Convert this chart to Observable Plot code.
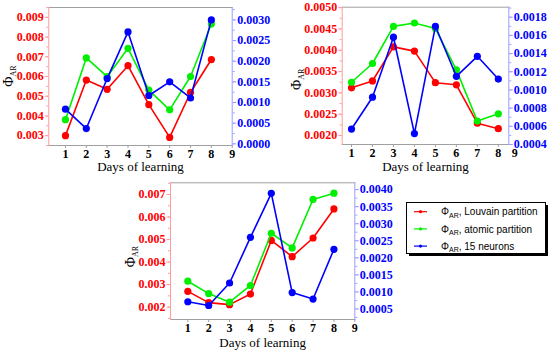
<!DOCTYPE html>
<html><head><meta charset="utf-8">
<script src="https://cdn.jsdelivr.net/npm/d3@7"></script>
<script src="https://cdn.jsdelivr.net/npm/@observablehq/plot@0.6"></script>
<style>
body{margin:0;background:#fff;}
#chart{position:relative;width:550px;height:351px;overflow:hidden;background:#fff;}
.layer{position:absolute;}
.layer svg{position:absolute;left:0;top:0;overflow:visible;}
</style></head><body><div id="chart"></div>
<script>
// ---------- data ----------
const days = [1, 2, 3, 4, 5, 6, 7, 8];
const xTickLabels = [1, 2, 3, 4, 5, 6, 7, 8, 9];
const seriesNames = ["Louvain partition", "atomic partition", "15 neurons"];
const seriesColors = ["#ff0000", "#00f000", "#0000ff"];

// Panel A (top left)
const louvainA = [0.00300, 0.00582, 0.00535, 0.00655, 0.00457, 0.00291, 0.00519, 0.00686];
const atomicA  = [0.00381, 0.00694, 0.00599, 0.00743, 0.00531, 0.00431, 0.00600, 0.00866];
const neuronsA = [0.00084, 0.00037, 0.00158, 0.00271, 0.00117, 0.00150, 0.00111, 0.00300];
const leftTicksA  = [0.003, 0.004, 0.005, 0.006, 0.007, 0.008, 0.009];
const rightTicksA = [0.0000, 0.0005, 0.0010, 0.0015, 0.0020, 0.0025, 0.0030];

// Panel B (top right)
const louvainB = [0.00312, 0.00328, 0.00408, 0.00398, 0.00324, 0.00319, 0.00229, 0.00216];
const atomicB  = [0.00325, 0.00369, 0.00456, 0.00464, 0.00451, 0.00354, 0.00234, 0.00251];
const neuronsB = [0.00057, 0.00092, 0.00158, 0.00052, 0.00170, 0.00115, 0.00137, 0.00112];
const leftTicksB  = [0.0020, 0.0025, 0.0030, 0.0035, 0.0040, 0.0045, 0.0050];
const rightTicksB = [0.0004, 0.0006, 0.0008, 0.0010, 0.0012, 0.0014, 0.0016, 0.0018];

// Panel C (bottom)
const louvainC = [0.00270, 0.00220, 0.00211, 0.00258, 0.00496, 0.00424, 0.00507, 0.00636];
const atomicC  = [0.00315, 0.00260, 0.00222, 0.00296, 0.00528, 0.00463, 0.00678, 0.00706];
const neuronsC = [0.00071, 0.00060, 0.00126, 0.00260, 0.00389, 0.00098, 0.00079, 0.00225];
const leftTicksC  = [0.002, 0.003, 0.004, 0.005, 0.006, 0.007];
const rightTicksC = [0.0005, 0.0010, 0.0015, 0.0020, 0.0025, 0.0030, 0.0035, 0.0040];

// ---------- helpers ----------
const SERIF = "Liberation Serif";
const SANS = "Liberation Sans";
const chart = document.getElementById("chart");

function minor(domain, step) {
  const start = Math.ceil(domain[0] / step - 1e-9);
  const stop = Math.floor(domain[1] / step + 1e-9);
  return d3.range(start, stop + 1).map(i => +(i * step).toFixed(8));
}

function panel(cfg) {
  const {left, top, width, height, mL, mR, mT, mB, xDomain, yL, yR,
         lTicks, rTicks, lStep, rStep, lFmt, rFmt, red, green, blue,
         xTicks, extraX, xLabelDy, yLabelGap, yLabelShift} = cfg;
  const rows = days.map((d, i) => ({day: d, louvain: red[i], atomic: green[i], neurons: blue[i]}));
  const div = document.createElement("div");
  div.className = "layer";
  Object.assign(div.style, {left: left + "px", top: top + "px", width: width + "px", height: height + "px"});
  chart.appendChild(div);

  const common = {width, height, marginLeft: mL, marginRight: mR, marginTop: mT, marginBottom: mB,
    style: {background: "transparent", overflow: "visible"}};
  const tickText = {fontFamily: SERIF, fontWeight: "bold", fontSize: 12};
  const fL = d3.format(lFmt), fR = d3.format(rFmt);

  const base = Plot.plot({
    ...common,
    x: {domain: xDomain, axis: null, label: null},
    y: {domain: yL, axis: null, label: null},
    marks: [
      Plot.frame({anchor: "top", stroke: "#a0a0a0"}),
      Plot.frame({anchor: "bottom", stroke: "#a0a0a0"}),
      Plot.frame({anchor: "left", stroke: "#ff9c9c"}),
      Plot.axisX(xTicks, {anchor: "bottom", tickSize: 3, tickFormat: () => "", stroke: "#a0a0a0", label: null}),
      Plot.text(xTicks, {x: d => d, text: d => String(d), frameAnchor: "bottom", dy: 8.5, lineAnchor: "middle", fill: "#000", ...tickText}),
      ...(extraX ? [Plot.text(extraX, {x: d => d, text: () => "9", frameAnchor: "bottom", dy: 8.5, lineAnchor: "middle", fill: "#000", ...tickText})] : []),
      Plot.axisY(minor(yL, lStep), {anchor: "left", tickSize: 2, tickFormat: () => "", stroke: "#ff9c9c", label: null}),
      Plot.axisY(lTicks, {anchor: "left", tickSize: 3.5, tickFormat: () => "", stroke: "#ff9c9c", label: null}),
      Plot.text(lTicks, {y: d => d, text: d => fL(d), frameAnchor: "left", textAnchor: "end", dx: -5, lineAnchor: "middle", fill: "#ff0000", ...tickText}),
      Plot.text(["Days of learning"], {frameAnchor: "bottom", text: d => d, dy: xLabelDy, lineAnchor: "middle",
        fontFamily: SERIF, fontSize: 13, fill: "#000"}),
      Plot.line(rows, {x: "day", y: "louvain", stroke: seriesColors[0], strokeWidth: 1.6}),
      Plot.dot(rows, {x: "day", y: "louvain", fill: seriesColors[0], r: 3.6}),
      Plot.line(rows, {x: "day", y: "atomic", stroke: seriesColors[1], strokeWidth: 1.6}),
      Plot.dot(rows, {x: "day", y: "atomic", fill: seriesColors[1], r: 3.6})
    ]
  });
  // y-axis label with subscript
  const lab = d3.select(base).append("text")
    .attr("transform", `translate(${mL - yLabelGap},${(mT + height - mB) / 2 + yLabelShift}) rotate(-90)`)
    .attr("text-anchor", "middle")
    .attr("font-family", SERIF).attr("font-size", 14).attr("fill", "#000");
  lab.append("tspan").text("Φ");
  lab.append("tspan").attr("font-size", 8).attr("dy", 3).text("AR");
  div.appendChild(base);

  const over = Plot.plot({
    ...common,
    x: {domain: xDomain, axis: null, label: null},
    y: {domain: yR, axis: null, label: null},
    marks: [
      Plot.frame({anchor: "right", stroke: "#9c9cff"}),
      Plot.axisY(minor(yR, rStep), {anchor: "right", tickSize: 2, tickFormat: () => "", stroke: "#9c9cff", label: null}),
      Plot.axisY(rTicks, {anchor: "right", tickSize: 3.5, tickFormat: () => "", stroke: "#9c9cff", label: null}),
      Plot.text(rTicks, {y: d => d, text: d => fR(d), frameAnchor: "right", textAnchor: "start", dx: 5, lineAnchor: "middle", fill: "#0000ff", ...tickText}),
      Plot.line(rows, {x: "day", y: "neurons", stroke: seriesColors[2], strokeWidth: 1.6}),
      Plot.dot(rows, {x: "day", y: "neurons", fill: seriesColors[2], r: 3.6})
    ]
  });
  div.appendChild(over);
}

// Panel A
panel({left: 0, top: 0, width: 275, height: 175, mL: 48.3, mR: 43.3, mT: 7, mB: 30,
  xDomain: [0.2, 9], yL: [0.0025, 0.0095], yR: [-0.00004, 0.0033],
  lTicks: leftTicksA, rTicks: rightTicksA, lStep: 0.0005, rStep: 0.00025, lFmt: ".3f", rFmt: ".4f",
  red: louvainA, green: atomicA, blue: neuronsA, xTicks: xTickLabels, extraX: null,
  xLabelDy: 21.5, yLabelGap: 35, yLabelShift: 0});

// Panel B
panel({left: 275, top: 0, width: 275, height: 175, mL: 66.7, mR: 41.7, mT: 6.7, mB: 31,
  xDomain: [0.556, 8.5], yL: [0.00179, 0.00501], yR: [0.0004, 0.00191],
  lTicks: leftTicksB, rTicks: rightTicksB, lStep: 0.00025, rStep: 0.0001, lFmt: ".4f", rFmt: ".4f",
  red: louvainB, green: atomicB, blue: neuronsB, xTicks: xTickLabels.slice(0, 8), extraX: [8.78],
  xLabelDy: 22, yLabelGap: 40.5, yLabelShift: 4});

// Panel C
panel({left: 100, top: 175, width: 310, height: 176, mL: 70, mR: 55.7, mT: 7.3, mB: 32,
  xDomain: [0.17, 9], yL: [0.00145, 0.00752], yR: [0.00019, 0.0042],
  lTicks: leftTicksC, rTicks: rightTicksC, lStep: 0.0005, rStep: 0.00025, lFmt: ".3f", rFmt: ".4f",
  red: louvainC, green: atomicC, blue: neuronsC, xTicks: xTickLabels, extraX: null,
  xLabelDy: 23, yLabelGap: 35, yLabelShift: 6});

// ---------- legend ----------
(function legend() {
  const L = d3.create("svg").attr("width", 150).attr("height", 66);
  L.append("rect").attr("x", 9).attr("y", 9).attr("width", 139).attr("height", 51).attr("fill", "#000");
  L.append("rect").attr("x", 6.5).attr("y", 6.5).attr("width", 139).attr("height", 51)
    .attr("fill", "#fff").attr("stroke", "#000").attr("stroke-width", 1);
  seriesNames.forEach((name, i) => {
    const y = 15.7 + i * 17.2;
    L.append("line").attr("x1", 14).attr("x2", 27).attr("y1", y).attr("y2", y)
      .attr("stroke", seriesColors[i]).attr("stroke-width", 1.2);
    L.append("circle").attr("cx", 20.5).attr("cy", y).attr("r", 1.6).attr("fill", seriesColors[i]);
    const t = L.append("text").attr("x", 41).attr("y", y + 3.6)
      .attr("font-family", SANS).attr("font-size", 10).attr("fill", "#000");
    t.append("tspan").text("Φ");
    t.append("tspan").attr("font-size", 7).attr("dy", 2.5).text("AR");
    t.append("tspan").attr("dy", -2.5).text(", " + name);
  });
  const div = document.createElement("div");
  div.className = "layer";
  Object.assign(div.style, {left: "400px", top: "196px", width: "150px", height: "66px"});
  div.appendChild(L.node());
  chart.appendChild(div);
})();
</script></body></html>
